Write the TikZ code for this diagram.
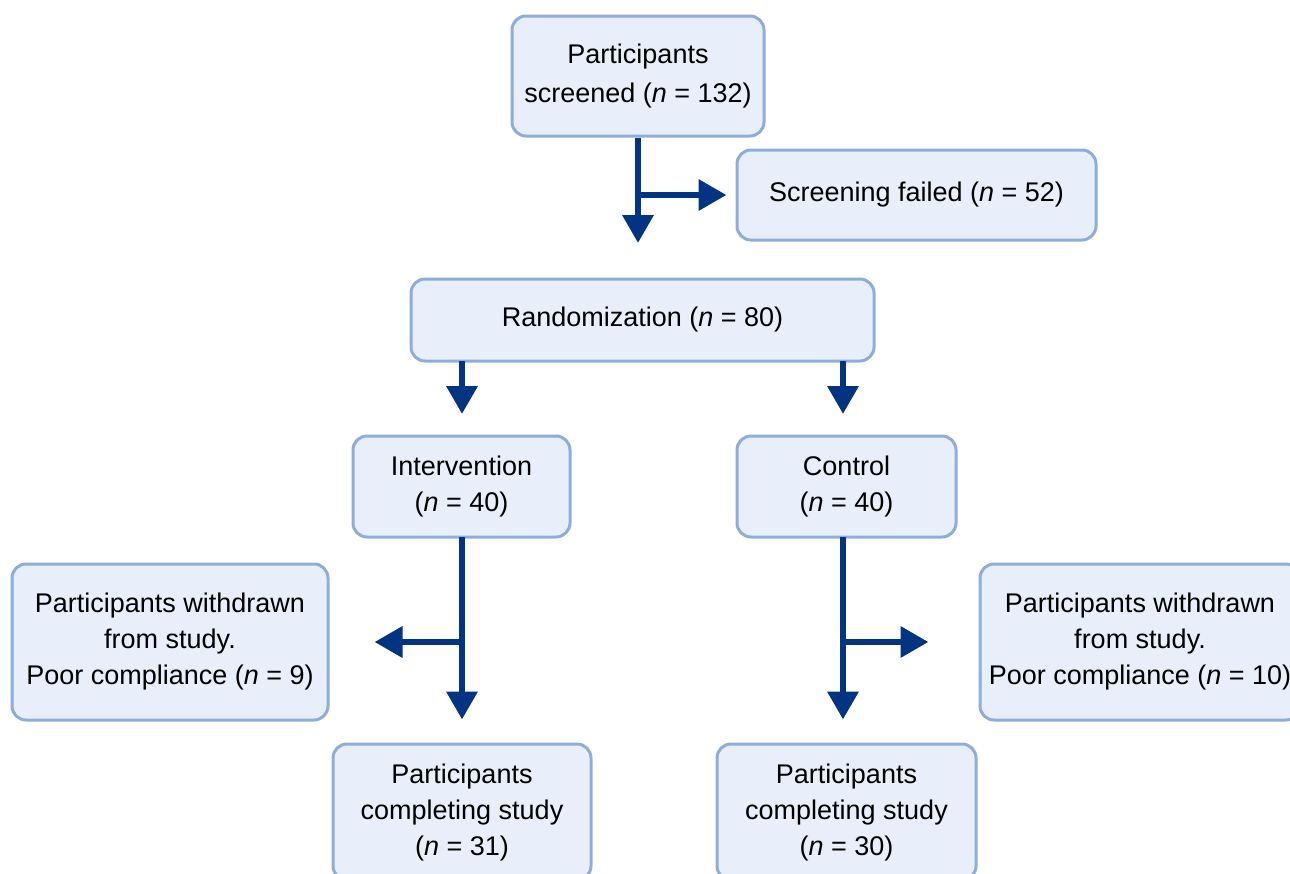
\documentclass[tikz,border=0pt]{standalone}
\usepackage{fontspec}
\setmainfont{Liberation Sans}
\usetikzlibrary{arrows.meta,calc}
\definecolor{boxfill}{RGB}{232,239,250}
\definecolor{boxline}{RGB}{141,174,219}
\definecolor{arrowc}{RGB}{2,52,130}
\begin{document}
\begin{tikzpicture}[x=1pt,y=-1pt,
  box/.style={draw=boxline, line width=3pt, fill=boxfill, rounded corners=14pt,
    align=center, font=\fontsize{27}{36}\selectfont, inner sep=0pt},
  conn/.style={draw=arrowc, line width=6.5pt, -{Triangle[length=28pt,width=30pt]}}]
\useasboundingbox (0,0) rectangle (1290,873);
\node[box, minimum width=252pt, minimum height=120pt, font=\fontsize{27}{39}\selectfont] (scr) at (638,76) {Participants\\screened (\textit{n} = 132)};
\node[box, minimum width=359pt, minimum height=90pt] (fail) at (916.5,195) {Screening failed (\textit{n} = 52)};
\node[box, minimum width=463pt, minimum height=82pt] (rand) at (642.5,320) {Randomization (\textit{n} = 80)};
\node[box, minimum width=217pt, minimum height=101pt] (int) at (461.5,486.5) {Intervention\\(\textit{n} = 40)};
\node[box, minimum width=219pt, minimum height=101pt] (ctrl) at (846.5,486.5) {Control\\(\textit{n} = 40)};
\node[box, minimum width=316pt, minimum height=156pt] (wl) at (170,642) {Participants withdrawn\\from study.\\Poor compliance (\textit{n} = 9)};
\node[box, minimum width=320pt, minimum height=156pt] (wr) at (1140,642) {Participants withdrawn\\from study.\\Poor compliance (\textit{n} = 10)};
\node[box, minimum width=258pt, minimum height=136pt] (cl) at (462,812) {Participants\\completing study\\(\textit{n} = 31)};
\node[box, minimum width=259pt, minimum height=136pt] (cr) at (846.5,812) {Participants\\completing study\\(\textit{n} = 30)};
% connectors
\coordinate (t1) at (638,243);
\coordinate (b1) at (638,195);
\draw[conn] (scr.south -| t1) -- (t1);
\draw[conn] (b1) -- ([xshift=-9pt]fail.west);
\coordinate (rl) at (462,361);
\coordinate (rr) at (843,361);
\draw[conn] (rl) -- (462,414);
\draw[conn] (rr) -- (843,414);
\coordinate (il) at (462,537);
\coordinate (ir) at (843,537);
\draw[conn] (il) -- ([yshift=23pt]cl.north);
\draw[conn] (ir) -- ([yshift=23pt]cr.north -| ir);
\coordinate (bl) at (462,642);
\coordinate (br) at (843,642);
\draw[conn] (bl) -- ([xshift=45pt]wl.east);
\draw[conn] (br) -- ([xshift=-50pt]wr.west);
\end{tikzpicture}
\end{document}
